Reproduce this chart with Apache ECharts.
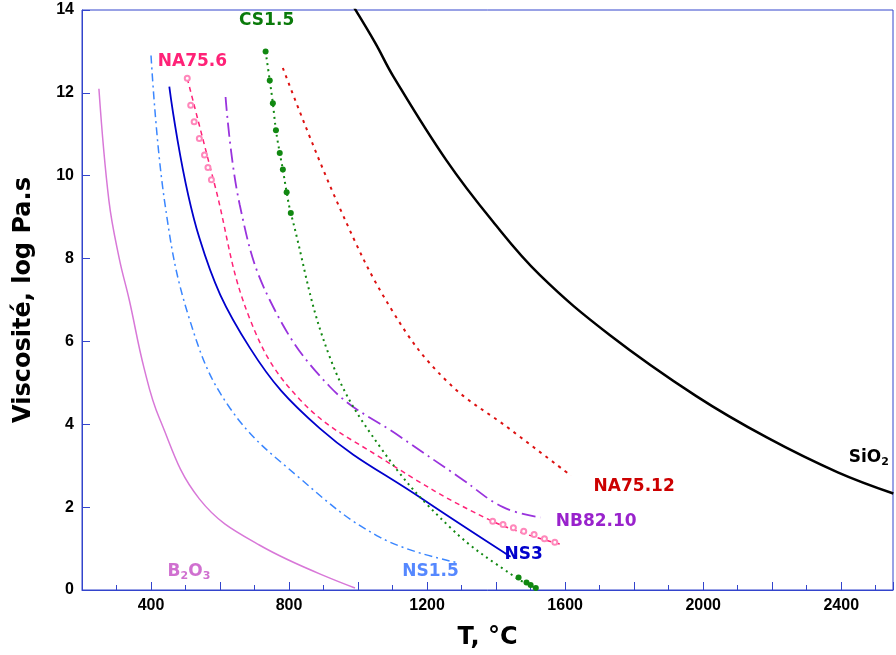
<!DOCTYPE html>
<html>
<head>
<meta charset="UTF-8">
<script src="https://cdn.jsdelivr.net/npm/echarts@6/dist/echarts.min.js"></script>
</head>
<body style="margin:0">
<div id="main" style="width:896px;height:655px;"></div>
<script>
var sio2 = [[989,14.05],[1050,13.2],[1102,12.4],[1256,10.37],[1390,8.9],[1527,7.6],[1730,6.15],[1980,4.68],[2187,3.67],[2390,2.84],[2551,2.33]];
var b2o3 = [[249,12.1],[278,9.4],[308,8.0],[337,7.0],[380,5.35],[424,4.15],[540,2.2],[715,1.08],[991,0.05]];
var ns15 = [[400,12.9],[439,9.4],[511,6.55],[628,4.4],[831,2.7],[1064,1.27],[1282,0.67]];
var ns3 = [[453,12.15],[540,8.5],[686,5.85],[889,3.9],[1180,2.23],[1442,0.8]];
var na756 = [[505,12.35],[584,9.8],[686,6.55],[831,4.6],[1064,3.2],[1384,1.68],[1588,1.1]];
var na756Pts = [[505,12.35],[515,11.7],[525,11.3],[540,10.9],[555,10.5],[565,10.2],[575,9.9],[1390,1.66],[1420,1.58],[1450,1.5],[1480,1.42],[1510,1.34],[1540,1.24],[1570,1.15]];
var nb8210 = [[616,11.9],[657,9.3],[744,7.0],[919,4.9],[1122,3.7],[1297,2.7],[1420,2.0],[1529,1.75]];
var cs15 = [[732,13.0],[744,12.3],[753,11.75],[762,11.1],[773,10.55],[782,10.15],[793,9.6],[805,9.1],[919,5.6],[1064,3.45],[1268,1.5],[1457,0.3],[1515,0.05]];
var cs15Pts = [[732,13.0],[744,12.3],[753,11.75],[762,11.1],[773,10.55],[782,10.15],[793,9.6],[805,9.1],[1465,0.3],[1488,0.18],[1500,0.12],[1515,0.05]];
var na7512 = [[782,12.6],[948,9.2],[1102,6.7],[1256,5.05],[1442,3.87],[1617,2.76]];
var labels = [
  {name:'SiO2', value:[2480,3.2], color:'#000000'},
  {name:'B2O3', value:[510,0.45], color:'#d070d0'},
  {name:'NS1.5', value:[1210,0.45], color:'#5588ff'},
  {name:'NS3', value:[1480,0.85], color:'#0000cc'},
  {name:'NA75.6', value:[520,12.75], color:'#ff2277'},
  {name:'NB82.10', value:[1690,1.65], color:'#9922cc'},
  {name:'CS1.5', value:[735,13.75], color:'#0a7a0a'},
  {name:'NA75.12', value:[1800,2.5], color:'#cc0000'}
];

function line(name, data, color, type, width) {
  return {name:name, type:'line', data:data, smooth:0.4, showSymbol:false,
    lineStyle:{color:color, width:width||1.5, type:type}, z:2};
}
var axisCol = '#3344cc';
var option = {
  animation:false,
  grid:{left:82, right:3, top:10, bottom:62, show:true, borderColor:axisCol, borderWidth:1},
  xAxis:{type:'value', min:200, max:2550, interval:200,
    name:'T, °C', nameLocation:'middle', nameGap:36,
    nameTextStyle:{fontSize:24, fontWeight:'bold', color:'#000', fontFamily:'DejaVu Sans'},
    axisLine:{lineStyle:{color:axisCol}}, axisTick:{inside:true, length:8, lineStyle:{color:axisCol}},
    minorTick:{show:true, splitNumber:2, length:5, lineStyle:{color:axisCol}},
    splitLine:{show:false},
    axisLabel:{fontSize:16, fontWeight:'bold', color:'#000', formatter:function(v){return v%400===0?v:'';}}},
  yAxis:{type:'value', min:0, max:14, interval:2,
    name:'Viscosité, log Pa.s', nameLocation:'middle', nameGap:46,
    nameTextStyle:{fontSize:24, fontWeight:'bold', color:'#000', fontFamily:'DejaVu Sans'},
    axisLine:{lineStyle:{color:axisCol}}, axisTick:{inside:true, length:8, lineStyle:{color:axisCol}},
    splitLine:{show:false},
    axisLabel:{fontSize:16, fontWeight:'bold', color:'#000'}},
  series:[
    line('SiO2', sio2, '#000000', 'solid', 2.5),
    line('B2O3', b2o3, '#d878d8', 'solid', 1.5),
    line('NS1.5', ns15, '#3a86ff', [8,4,2,4], 1.5),
    line('NS3', ns3, '#0000cc', 'solid', 1.8),
    line('NA75.6', na756, '#ff2277', [5,4], 1.5),
    line('NB82.10', nb8210, '#9933dd', [14,5,2,5], 1.8),
    line('CS1.5', cs15, '#118811', [2,4], 2),
    line('NA75.12', na7512, '#dd1111', [3,5], 2),
    {type:'scatter', data:na756Pts, symbol:'emptyCircle', symbolSize:5, itemStyle:{color:'#ff88bb', borderColor:'#ff66aa', opacity:1}, z:3},
    {type:'scatter', data:cs15Pts, symbol:'circle', symbolSize:6, itemStyle:{color:'#118811', opacity:1}, z:3},
    {type:'scatter', data:labels.map(function(l){return {name:l.name, value:l.value};}), symbolSize:1, z:4,
      label:{show:true, position:'inside', opacity:1,
        formatter:function(p){
          if (p.name==='SiO2') return '{a|SiO}{s|2}';
          if (p.name==='B2O3') return '{a|B}{s|2}{a|O}{s|3}';
          return '{a|'+p.name+'}';
        }
      },
      itemStyle:{color:'rgba(0,0,0,0)', opacity:1}}
  ]
};
option.series[10].data.forEach(function(d,i){
  var c = labels[i].color;
  d.label = {rich:{a:{color:c, fontSize:17, fontWeight:'bold', fontFamily:'DejaVu Sans'},
    s:{color:c, fontSize:11, fontWeight:'bold', fontFamily:'DejaVu Sans', verticalAlign:'bottom', padding:[9,0,0,0]}}};
});
var chart = echarts.init(document.getElementById('main'));
chart.setOption(option);
</script>
</body>
</html>
